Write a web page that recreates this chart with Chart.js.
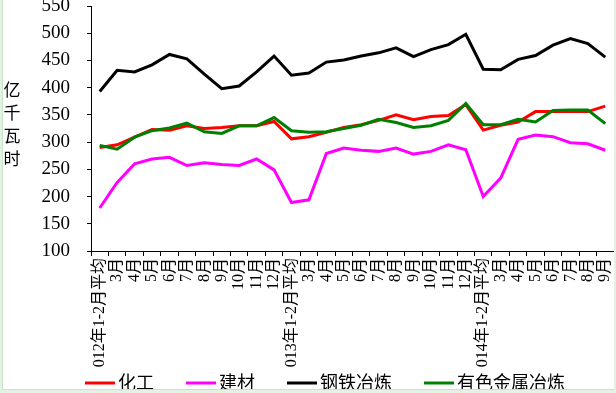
<!DOCTYPE html>
<html>
<head>
<meta charset="utf-8">
<script src="https://cdn.jsdelivr.net/npm/chart.js@4/dist/chart.umd.min.js"></script>
<style>
  html, body { margin: 0; padding: 0; background: #e3f2e3; width: 616px; height: 393px; overflow: hidden; }
  #wrap { position: absolute; left: 2px; top: 0; width: 611px; height: 389px; background: #fff;
          border-left: 1px solid #c9e3c9; border-bottom: 1px solid #c9e3c9; }
  canvas { display: block; }
</style>
</head>
<body>
<div id="wrap"><canvas id="chart" width="611" height="389"></canvas></div>
<script>
const labels = [
  "2012年1-2月平均", "3月", "4月", "5月", "6月", "7月", "8月", "9月", "10月", "11月", "12月",
  "2013年1-2月平均", "3月", "4月", "5月", "6月", "7月", "8月", "9月", "10月", "11月", "12月",
  "2014年1-2月平均", "3月", "4月", "5月", "6月", "7月", "8月", "9月"
];
const chemical = [290, 295, 309, 323, 322, 330, 325, 327, 330, 330, 338, 306, 310, 318, 327, 332, 340, 350, 341, 347, 349, 369, 322, 331, 337, 356, 356, 356, 356, 366];
const building = [179, 226, 260, 269, 272, 257, 262, 259, 257, 269, 249, 189, 194, 279, 289, 285, 283, 289, 278, 283, 295, 286, 200, 234, 305, 313, 310, 299, 297, 285];
const steel = [393, 432, 429, 442, 461, 453, 425, 398, 403, 429, 458, 423, 427, 447, 451, 458, 464, 473, 457, 470, 479, 498, 434, 433, 452, 459, 478, 490, 481, 456];
const metals = [294, 287, 309, 321, 326, 335, 319, 316, 330, 330, 345, 321, 318, 319, 325, 331, 342, 336, 327, 330, 340, 371, 332, 332, 342, 337, 358, 359, 359, 334];
const yTitle = ["亿", "千", "瓦", "时"];

const serif = "'Liberation Serif', 'Noto Sans CJK SC', serif";
const cjk = "'Noto Sans CJK SC', sans-serif";

// stacked y title + legend drawn under the axis
const extras = {
  id: "extras",
  afterDraw(chart) {
    const { ctx, chartArea } = chart;
    ctx.save();
    ctx.fillStyle = "#000";
    ctx.font = "17px " + cjk;
    ctx.textAlign = "center";
    ctx.textBaseline = "middle";
    const mid = (chartArea.top + chartArea.bottom) / 2 - 4;
    yTitle.forEach((ch, i) => {
      ctx.fillText(ch, 9, mid + (i - 1.5) * 23);
    });

    ctx.font = "18px " + cjk;
    ctx.textAlign = "left";
    let x = chartArea.left - 6;
    const y = 383;
    chart.data.datasets.forEach((ds) => {
      ctx.strokeStyle = ds.borderColor;
      ctx.lineWidth = 3;
      ctx.beginPath();
      ctx.moveTo(x, y);
      ctx.lineTo(x + 30, y);
      ctx.stroke();
      ctx.fillStyle = "#000";
      ctx.fillText(ds.label, x + 33, y - 1);
      x += 33 + ctx.measureText(ds.label).width + 32;
    });
    ctx.restore();
  },
};

const line = (label, data, color, order) => ({
  label,
  data,
  borderColor: color,
  backgroundColor: color,
  borderWidth: 3,
  pointRadius: 0,
  tension: 0,
  fill: false,
  order,
});

new Chart(document.getElementById("chart").getContext("2d"), {
  type: "line",
  data: {
    labels: labels,
    datasets: [
      line("化工", chemical, "#ff0000", 4),
      line("建材", building, "#ff00ff", 3),
      line("钢铁冶炼", steel, "#000000", 2),
      line("有色金属冶炼", metals, "#008000", 1),
    ],
  },
  options: {
    responsive: false,
    animation: false,
    layout: { padding: { top: 6, bottom: 22, left: 0, right: 0 } },
    plugins: {
      legend: { display: false },
      tooltip: { enabled: false },
    },
    scales: {
      x: {
        offset: true,
        border: { display: true, color: "#000", width: 1 },
        grid: { drawOnChartArea: false, color: "#000", tickLength: 5, offset: true },
        ticks: {
          autoSkip: false,
          maxRotation: 90,
          minRotation: 90,
          padding: 2,
          color: "#000",
          font: { family: serif, size: 16 },
        },
        afterFit: (s) => {
          s.height = 116;
          s.paddingLeft = 0;
          s.paddingRight = 0;
        },
      },
      y: {
        min: 100,
        max: 550,
        border: { display: true, color: "#000", width: 1 },
        grid: { drawOnChartArea: false, color: "#000", tickLength: 4 },
        ticks: {
          stepSize: 50,
          padding: 17,
          color: "#000",
          font: { family: serif, size: 19 },
        },
        afterFit: (s) => {
          s.width = 88;
          s.paddingTop = 0;
          s.paddingBottom = 0;
        },
      },
    },
  },
  plugins: [extras],
});
</script>
</body>
</html>
